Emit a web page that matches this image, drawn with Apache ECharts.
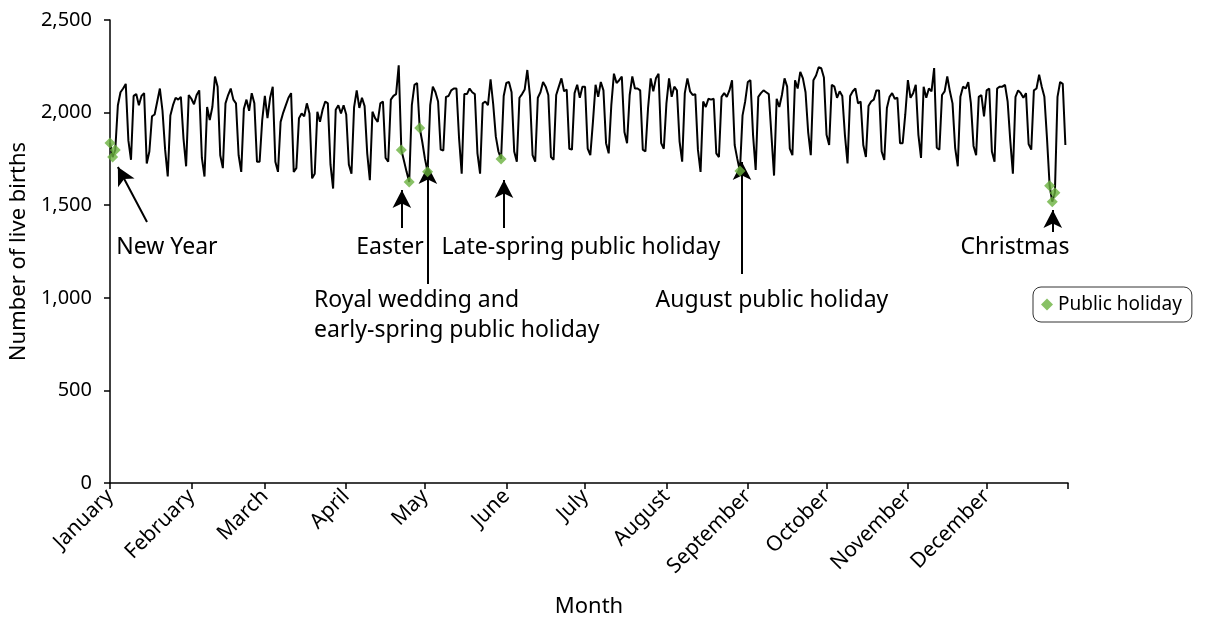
<!DOCTYPE html>
<html><head><meta charset="utf-8">
<script src="https://cdn.jsdelivr.net/npm/echarts@6/dist/echarts.min.js"></script>
<style>html,body{margin:0;padding:0;background:#fff}#c{width:1225px;height:621px}</style>
</head><body><div id="c"></div>
<script>
// ---- data (daily live births, 2011) ----
const monthNames = ['January','February','March','April','May','June','July','August','September','October','November','December'];
const monthStarts = [0,31,59,90,120,151,181,212,243,273,304,334,365];
const jan = [1836,1760,1798,2040,2110,2130,2155,1850,1745,2090,2100,2040,2090,2105,1725,1790,1980,1990,2060,2130,2010,1800,1655,1985,2040,2080,2070,2085,1860,1710,2095];
const feb = [2075,2045,2095,2120,1755,1655,2030,1960,2030,2195,2140,1770,1700,2050,2095,2130,2070,2050,1770,1680,2020,2070,2010,2105,2050,1735,1735,1960];
const mar = [2090,1970,2080,2140,1735,1680,1950,2000,2040,2080,2105,1680,1700,1970,1995,1980,2050,1995,1645,1670,2005,1950,2015,2060,2050,1720,1590,2015,2040,1995,2040];
const apr = [1990,1720,1670,2030,2120,2025,2080,2035,1780,1635,2005,1970,1950,2050,2060,1755,1735,2070,2090,2100,2255,1798,1740,1680,1625,2040,2150,2160,1917,1840];
const may = [1750,1680,2040,2140,2110,2060,1800,1795,2085,2090,2120,2130,2130,1860,1670,2100,2100,2130,2110,2100,1780,1670,2050,2060,2040,2180,2045,1870,1790,1750,2090];
const jun = [2160,2165,2110,1790,1735,2080,2100,2125,2230,2090,1770,1735,2080,2110,2165,2140,2095,1760,1745,2095,2140,2185,2115,2125,1805,1800,2105,2150,2080,2140];
const jul = [2140,1805,1770,1950,2150,2085,2165,2120,1835,1780,2040,2210,2160,2175,2195,1895,1835,2095,2195,2130,2130,2120,1800,1790,2025,2185,2115,2185,2210,1835,1805];
const aug = [2050,2185,2085,2140,2120,1845,1735,2105,2185,2115,2095,2100,1800,1680,2060,2030,2075,2070,2075,1780,1760,2085,2105,2085,2120,2175,1825,1750,1685,1985,2060];
const sep = [2165,2175,1880,1690,2085,2105,2120,2110,2100,1880,1660,2075,2030,2095,2185,2140,1805,1770,2175,2130,2220,2185,2110,1895,1770,2175,2200,2245,2240,2190];
const oct = [1880,1825,2150,2140,2080,2115,2090,1880,1725,2090,2115,2130,2050,2060,1825,1760,2035,2060,2070,2120,2120,1790,1745,2025,2085,2105,2075,2080,1835,1835,1990];
const nov = [2175,2080,2105,2150,1880,1755,2140,2080,2130,2115,2240,1810,1800,2095,2115,2195,2115,2050,1810,1710,2085,2140,2130,2165,2050,1820,1770,2085,2095,1980];
const dec = [2120,2130,1790,1735,2130,2140,2140,2150,2060,1850,1670,2085,2120,2105,2080,2105,1830,1800,2120,2130,2205,2140,2085,1860,1605,1519,1567,2085,2165,2155,1825];
const holidayDays = [0,1,2,111,114,118,121,149,240,358,359,360];
const yTicks = [0,500,1000,1500,2000,2500];

// annotation text (anchor in data space) and arrows (tail -> tip, data space)
const annText = [
  {text:'New Year', day:21.7, value:1274, align:'center'},
  {text:'Easter', day:106.7, value:1274, align:'center'},
  {text:'Late-spring public holiday', day:179.4, value:1274, align:'center'},
  {text:'Christmas', day:344.8, value:1274, align:'center'},
  {text:'Royal wedding and\nearly-spring public holiday', day:77.7, value:902, align:'left'},
  {text:'August public holiday', day:252.2, value:983, align:'center'}
];
const annArrows = [
  [[14.1,1409],[3.0,1706]],
  [[111.2,1377],[111.2,1582]],
  [[121.1,1075],[121.1,1712]],
  [[150.1,1377],[150.1,1636]],
  [[240.8,1128],[240.8,1733]],
  [[359.2,1355],[359.2,1474]]
];

const daily = [].concat(jan,feb,mar,apr,may,jun,jul,aug,sep,oct,nov,dec);
const lineData = daily.map((v,i)=>[i,v]);
const holidayData = holidayDays.map(d=>[d, daily[d]]);

const FONT = 'Noto Sans';
const chart = echarts.init(document.getElementById('c'), null, {renderer:'canvas'});
const option = {
  animation:false,
  backgroundColor:'#fff',
  textStyle:{fontFamily:FONT},
  grid:{left:110, right:157, top:20, bottom:138, containLabel:false, outerBoundsMode:'none'},
  legend:{
    data:[{name:'Public holiday', icon:'diamond'}],
    left:1033, top:287,
    borderColor:'#333', borderWidth:1, borderRadius:8,
    padding:[8,10,8,8],
    itemWidth:12, itemHeight:12, itemGap:8,
    textStyle:{fontFamily:FONT, fontSize:19, color:'#000'}
  },
  xAxis:{
    type:'value', min:0, max:365,
    name:'Month', nameLocation:'middle', nameGap:113,
    nameTextStyle:{fontFamily:FONT, fontSize:22, color:'#000'},
    axisLine:{show:true, onZero:false, lineStyle:{color:'#000', width:1.5}},
    axisTick:{show:true, length:6, lineStyle:{color:'#000', width:1.5}, customValues:monthStarts},
    axisLabel:{
      customValues:monthStarts.slice(0,12),
      rotate:45, margin:10, fontFamily:FONT, fontSize:21, color:'#000',
      formatter:function(v){ const i = monthStarts.indexOf(Math.round(v)); return i>=0 && i<12 ? monthNames[i] : ''; }
    },
    splitLine:{show:false}
  },
  yAxis:{
    type:'value', min:0, max:2500, interval:500,
    name:'Number of live births', nameLocation:'middle', nameGap:78,
    nameTextStyle:{fontFamily:FONT, fontSize:22, color:'#000'},
    axisLine:{show:true, lineStyle:{color:'#000', width:1.5}},
    axisTick:{show:true, length:6, lineStyle:{color:'#000', width:1.5}},
    axisLabel:{margin:18, fontFamily:FONT, fontSize:20, color:'#000',
      formatter:function(v){ return v.toLocaleString('en-US'); }},
    splitLine:{show:false}
  },
  series:[
    {
      name:'Births', type:'line', data:lineData, showSymbol:false, symbol:'none',
      lineStyle:{color:'#000', width:2}, itemStyle:{color:'#000'}, z:2,
      markLine:{
        silent:true, symbol:['none','arrow'], symbolSize:[14,18],
        lineStyle:{color:'#000', width:2, type:'solid'},
        label:{show:false},
        data:annArrows.map(a=>[{coord:a[0]},{coord:a[1]}])
      }
    },
    {
      name:'Public holiday', type:'scatter', data:holidayData, symbol:'diamond', symbolSize:11,
      itemStyle:{color:'#6ab23e'}, z:5
    }
  ]
};
chart.setOption(option);

const graphics = annText.map(a=>{
  const p = chart.convertToPixel({gridIndex:0}, [a.day, a.value]);
  return {type:'text', x:p[0], y:p[1], z:10,
    style:{text:a.text, fill:'#000', font:'23px "'+FONT+'"', align:a.align, verticalAlign:'middle', lineHeight:30}};
});
chart.setOption({graphic:graphics});
</script></body></html>
